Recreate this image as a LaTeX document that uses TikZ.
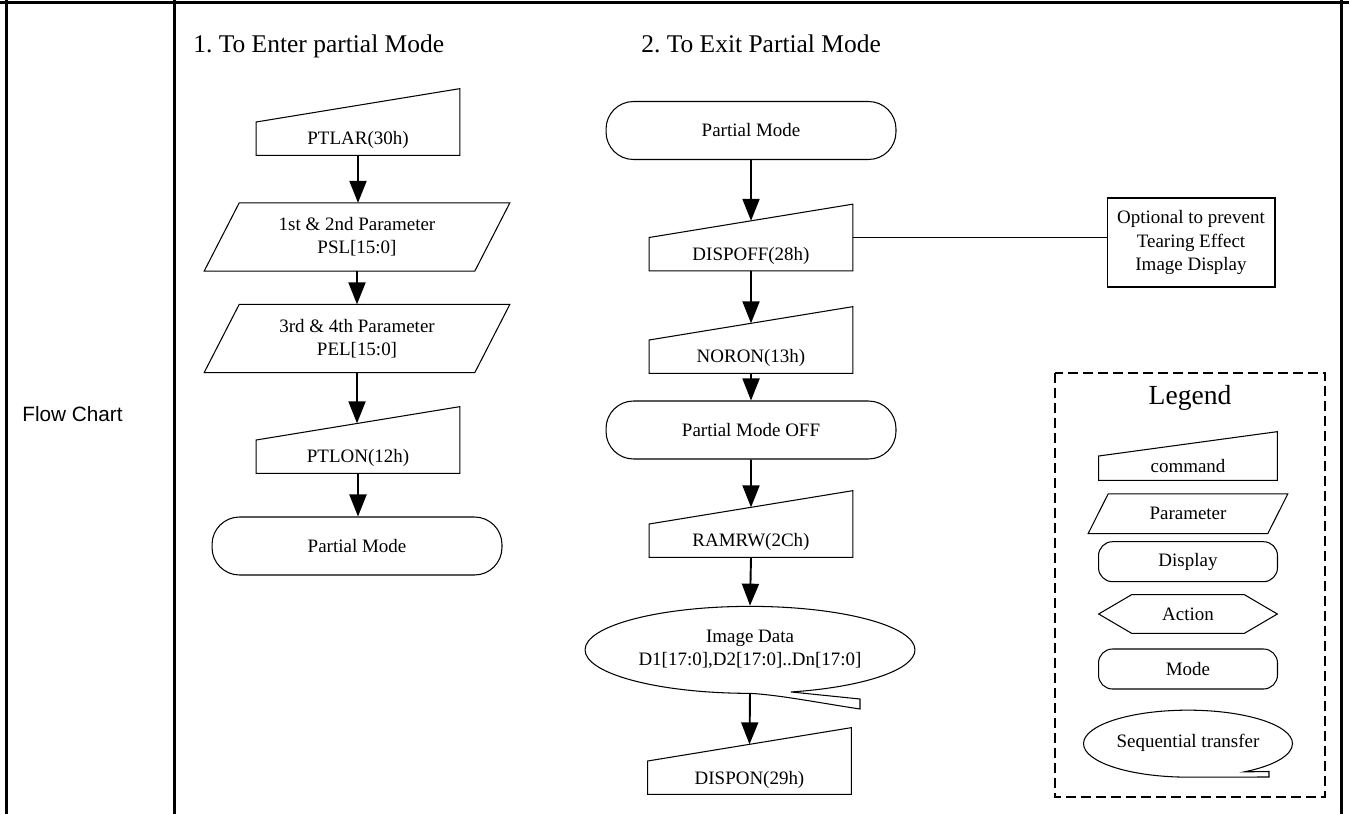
\documentclass[tikz,border=0pt]{standalone}
\usepackage{fontspec}
\setmainfont{Liberation Serif}
\newfontfamily\arialfont{Liberation Sans}
\usetikzlibrary{arrows.meta,calc,shapes.geometric}
\frenchspacing

% command box: slanted top, left side half as high as right side
\newcommand{\cmdshape}[1]{%
  \draw[shp] (#1.south west) -- (#1.south east) -- (#1.north east) -- (#1.west) -- cycle;
  \coordinate (#1-top) at ($(#1.north)!.5!(#1.center)$);}
% parameter box: parallelogram
\newcommand{\paramshape}[2]{%
  \draw[shp] ($(#1.south west)+(-#2,0)$) -- ($(#1.south east)+(-#2,0)$)
    -- ($(#1.north east)+(#2,0)$) -- ($(#1.north west)+(#2,0)$) -- cycle;}

\begin{document}
\begin{tikzpicture}[x=0.02cm,y=-0.02cm,>={Triangle[length=0.44cm,width=0.34cm]},
  font=\fontsize{10.8}{13.3}\selectfont,
  shp/.style={line width=0.6pt},
  grid/.style={line width=1.4pt},
  flow/.style={->,line width=1.1pt},
  cmd/.style={inner sep=0pt,minimum width=4.06cm,text height=1.12cm,text depth=0.2cm},
  lgcmdbox/.style={inner sep=0pt,minimum width=3.56cm,text height=0.81cm,text depth=0.15cm},
  param/.style={inner sep=0pt,minimum width=5.4cm,minimum height=1.35cm,align=center},
  lgparam/.style={inner sep=0pt,minimum width=3.58cm,minimum height=0.78cm},
  disp/.style={draw,shp,rounded corners=0.55cm,minimum width=5.8cm,minimum height=1.16cm},
  lgdisp/.style={draw,shp,rounded corners=0.28cm,minimum width=3.58cm,minimum height=0.8cm},
  seq/.style={ellipse,inner sep=0pt,minimum width=6.6cm,minimum height=1.74cm,align=center},
  title/.style={anchor=base west,inner sep=0pt,font=\fontsize{14.5}{17}\selectfont}]
  \useasboundingbox (0,0) rectangle (1349,814);

  % table frame
  \draw[grid] (0,2.5) -- (1349,2.5);
  \draw[grid] (6.5,0) -- (6.5,814);
  \draw[grid] (174.5,0) -- (174.5,814);
  \draw[grid] (1341.5,0) -- (1341.5,814);
  \node[anchor=west,inner sep=0pt,font=\arialfont\fontsize{11.8}{14}\selectfont] (rowlabel) at (22,414) {Flow Chart};

  \node[title] (title1) at (193,53) {1. To Enter partial Mode};
  \node[title] (title2) at (641,53) {2. To Exit Partial Mode};

  % enter partial mode
  \node[cmd] (ptlar) at (358,122) {PTLAR(30h)}; \cmdshape{ptlar}
  \node[param] (psl) at (357,237) {1st \& 2nd Parameter\\PSL[15:0]}; \paramshape{psl}{17.5}
  \node[param] (pel) at (357,338.5) {3rd \& 4th Parameter\\PEL[15:0]}; \paramshape{pel}{17.5}
  \node[cmd] (ptlon) at (358,440) {PTLON(12h)}; \cmdshape{ptlon}
  \node[disp] (pm1) at (357,546) {Partial Mode};

  \draw[flow] (ptlar.south) -- (ptlar.south |- psl.north);
  \draw[flow] (psl.south) -- (psl.south |- pel.north);
  \draw[flow] (pel.south) -- (pel.south |- ptlon-top);
  \draw[flow] (ptlon.south) -- (ptlon.south |- pm1.north);

  % exit partial mode
  \node[disp] (pm2) at (751,130.5) {Partial Mode};
  \node[cmd] (dispoff) at (751,237.5) {DISPOFF(28h)}; \cmdshape{dispoff}
  \node[cmd] (noron) at (751,340) {NORON(13h)}; \cmdshape{noron}
  \node[disp] (pmoff) at (751,430) {Partial Mode OFF};
  \node[cmd] (ramrw) at (751,524) {RAMRW(2Ch)}; \cmdshape{ramrw}
  \node[seq] (imgdata) at (750,649.5) {Image Data\\D1[17:0],D2[17:0]..Dn[17:0]};
  \draw[shp] (imgdata.south) arc[start angle=-90,end angle=-435.6,x radius=3.3cm,y radius=0.87cm]
    -- (860,699) -- (860,709) .. controls (820,703) and (780,695) .. (imgdata.south);
  \node[cmd] (dispon) at (749.5,761) {DISPON(29h)}; \cmdshape{dispon}

  \draw[flow] (pm2.south) -- (dispoff-top);
  \draw[flow] (dispoff.south) -- (noron-top);
  \draw[flow] (noron.south) -- (noron.south |- pmoff.north);
  \draw[flow] (pmoff.south) -- (ramrw-top);
  \draw[flow] (ramrw.south) -- (imgdata.north);
  \draw[flow] (imgdata.south) -- (dispon-top);

  \node[draw,shp,minimum width=3.36cm,minimum height=1.78cm,align=center] (note) at (1191,242.5)
    {Optional to prevent\\Tearing Effect\\Image Display};
  \draw[line width=0.8pt] (dispoff.east) -- (dispoff.east -| note.west);

  % legend
  \draw[line width=1.2pt,dash pattern=on 0.2cm off 0.1cm] (1055,373) rectangle (1325,797);
  \node[font=\fontsize{15.7}{19}\selectfont] (legend) at (1190,398) {Legend};
  \node[lgcmdbox] (lgcmd) at (1188,456) {command}; \cmdshape{lgcmd}
  \node[lgparam] (lgpar) at (1188,513.7) {Parameter}; \paramshape{lgpar}{10}
  \node[lgdisp] (lgdisplay) at (1188,561.7) {Display};
  \node[inner sep=0pt,minimum width=3.56cm,minimum height=0.76cm] (lgact) at (1188,614) {Action};
  \draw[shp] (lgact.west) -- ($(lgact.north west)+(33,0)$) -- ($(lgact.north east)+(-33,0)$)
    -- (lgact.east) -- ($(lgact.south east)+(-33,0)$) -- ($(lgact.south west)+(33,0)$) -- cycle;
  \node[lgdisp] (lgmode) at (1188,669) {Mode};
  \node[seq,minimum width=4.18cm,minimum height=1.34cm] (lgseq) at (1188,743.3) {Sequential transfer};
  \draw[shp] (lgseq.south) arc[start angle=-90,end angle=-417.4,x radius=2.09cm,y radius=0.67cm]
    -- (1269,771.5) -- (1269,777) -- (lgseq.south);
\end{tikzpicture}
\end{document}
